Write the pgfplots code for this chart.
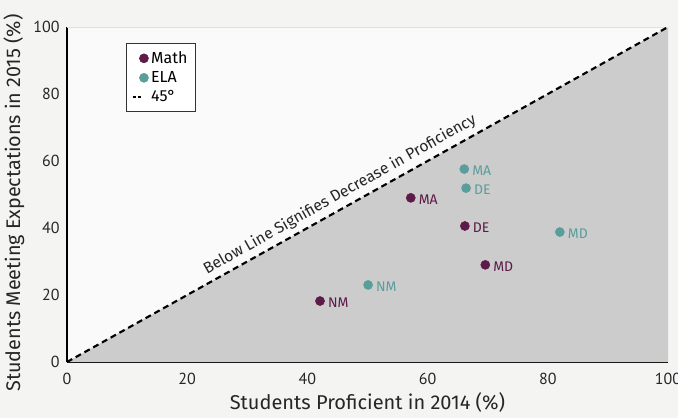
\documentclass[border=0pt]{standalone}
\usepackage{pgfplots}
\pgfplotsset{compat=1.18}
\usepackage{fontspec}
\setmainfont{Fira Sans}
\newfontfamily\tickfont{PT Sans}
\definecolor{mathc}{HTML}{5E1A48}
\definecolor{elac}{HTML}{5A9E9B}
\definecolor{outerbg}{HTML}{F4F4F2}
\definecolor{innerbg}{HTML}{FAFAFA}
\definecolor{trifill}{HTML}{CCCCCC}
\pgfplotsset{shortdash legend/.style={legend image code/.code={\draw[black, line width=1.6pt, dash pattern=on 2.5pt off 1.5pt] (0cm,0cm) -- (0.22cm,0cm);}},
  ptlabels/.style={nodes near coords, point meta=explicit symbolic,
    every node near coord/.append style={anchor=west, font=\fontsize{10.5}{11}\selectfont, xshift=2.5pt, yshift=-1.5pt, text=#1}}}
\begin{document}
\begin{tikzpicture}
\fill[outerbg] (-50.25pt,-42pt) rectangle (458.25pt,271.5pt);
\begin{axis}[
  scale only axis, width=450.75pt, height=251.25pt,
  xmin=0, xmax=100, ymin=0, ymax=100,
  axis x line*=bottom, axis y line*=left,
  axis line style={black, line width=0.9pt, -},
  axis background/.style={fill=innerbg},
  xtick={0,20,40,60,80,100}, ytick={0,20,40,60,80,100},
  major tick length=0pt,
  tick label style={font=\tickfont\fontsize{12}{13}\selectfont, text=black!85},
  xticklabel style={yshift=-5pt},
  yticklabel style={xshift=-2pt},
  /pgf/number format/assume math mode=true,
  xlabel={Students Proficient in 2014 (\%)},
  ylabel={Students Meeting Expectations in 2015 (\%)},
  label style={font=\fontsize{15}{16}\selectfont, text=black!85},
  xlabel style={yshift=1pt},
  ylabel style={at={(ticklabel cs:0.475)}, font=\fontsize{14.8}{16}\selectfont},
  clip=false,
  legend style={at={(0.098,0.952)}, anchor=north west, draw=black!80, fill=white,
    font=\fontsize{12}{14}\selectfont, row sep=0.5pt, inner sep=4pt, cells={anchor=west}},
  legend cell align=left,
]
\addplot[fill=trifill, draw=none, forget plot] coordinates {(0,0) (100,0) (100,100) (0,0)} -- cycle;
\addplot[black!12, line width=0.6pt, forget plot] coordinates {(0,100) (100,100)};
\addplot[only marks, mark=*, mark size=3.4pt, mathc, mark options={draw=mathc, fill=mathc}, ptlabels=mathc]
  table[meta=label] {
x y label
42.1 18.2 NM
57.2 49.0 MA
66.2 40.6 DE
69.6 29.0 MD
};
\addlegendentry{Math}
\addplot[only marks, mark=*, mark size=3.4pt, elac, mark options={draw=elac, fill=elac}, ptlabels=elac]
  table[meta=label] {
x y label
50.1 23.0 NM
66.1 57.6 MA
66.4 51.9 DE
82.0 38.8 MD
};
\addlegendentry{ELA}
\addplot[black, line width=1.6pt, dash pattern=on 4.5pt off 3pt, shortdash legend]
  coordinates {(0,0) (100,100)};
\addlegendentry{45°}
\node[rotate=29.3, anchor=south, font=\fontsize{11.8}{13}\selectfont, text=black!85, inner sep=4pt] at (axis cs:46.5,46.5) {Below Line Signifies Decrease in Proficiency};
\end{axis}
\pgfresetboundingbox
\path[use as bounding box] (-50.25pt,-42pt) rectangle (458.25pt,271.5pt);
\end{tikzpicture}
\end{document}
